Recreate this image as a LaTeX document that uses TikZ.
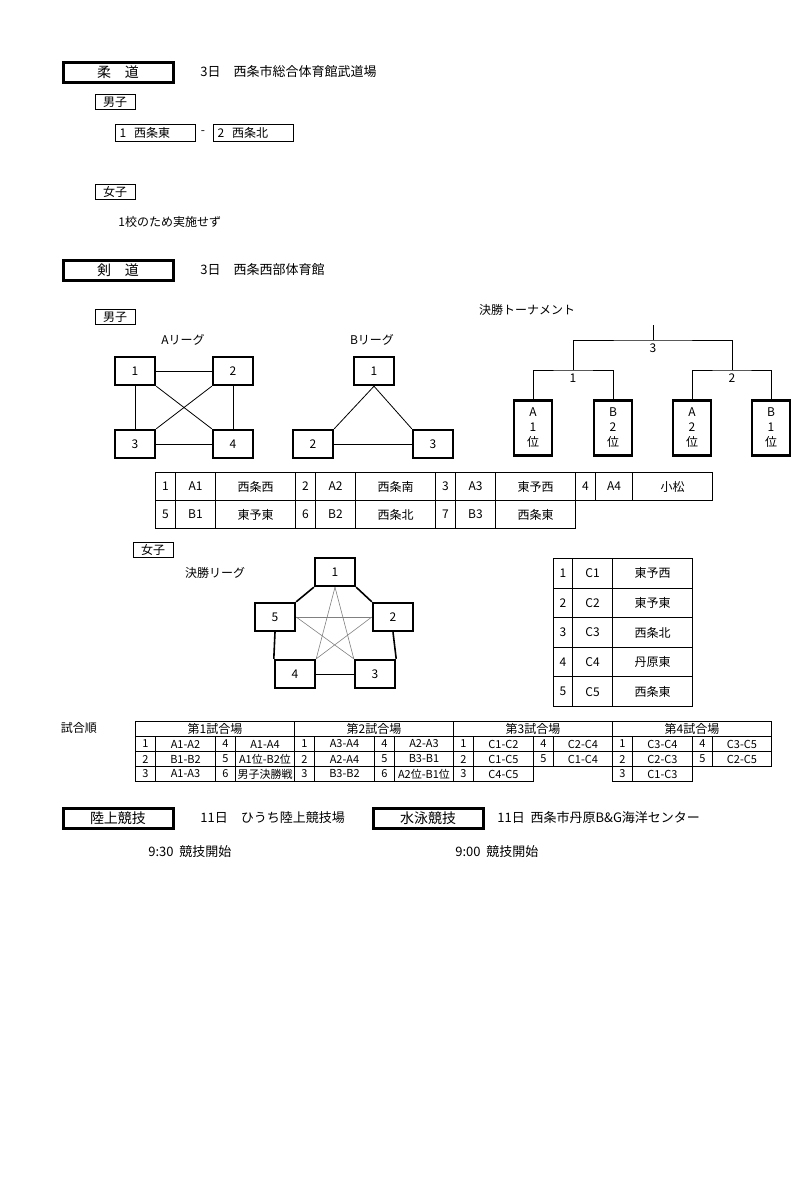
\documentclass[tikz,border=0pt]{standalone}
\usepackage{fontspec}
\setmainfont{Noto Sans CJK JP}
\begin{document}
\begin{tikzpicture}[
    x=0.5pt, y=-0.5pt,
    every node/.style={font=\fontsize{6}{7}\selectfont, inner sep=0pt},
    titlebox/.style={draw, line width=1.5pt, minimum width=55pt, minimum height=10pt, font=\fontsize{7}{8}\selectfont},
    smallbox/.style={draw, line width=0.5pt, minimum width=20pt, minimum height=7.5pt},
    teambox/.style={draw, line width=0.5pt, minimum width=40pt, minimum height=8.5pt, anchor=west, text width=38pt, align=left},
    vertex/.style={draw, line width=1.2pt, minimum width=20pt, minimum height=14pt},
    tallvertex/.style={draw, line width=1.2pt, minimum width=19pt, minimum height=27.5pt, align=center, font=\fontsize{6}{7.5}\selectfont},
    cell/.style={draw, line width=0.5pt, anchor=north west, minimum height=14pt},
    mcell/.style={draw, line width=0.5pt, anchor=north west, minimum height=7.5pt, font=\fontsize{5.5}{6}\selectfont},
    info/.style={anchor=west, font=\fontsize{6.5}{7.5}\selectfont}
]
\useasboundingbox (0,0) rectangle (800,1200);

% 柔道
\node[titlebox] (judo) at (118,72) {柔\quad 道};
\node[info] (judoinfo) at (200,72) {3日\quad 西条市総合体育館武道場};
\node[smallbox] (judoM) at (115,102) {男子};
\node[teambox] (jt1) at (115,133) {\,1\ \ 西条東};
\node (jdash) at (203,133) {-};
\node[teambox] (jt2) at (213,133) {\,2\ \ 西条北};
\node[smallbox] (judoW) at (115,192) {女子};
\node[anchor=west] (judonote) at (118,222) {1校のため実施せず};

% 剣道
\node[titlebox] (kendo) at (118,270) {剣\quad 道};
\node[info] (kendoinfo) at (200,270) {3日\quad 西条西部体育館};
\node[smallbox] (kendoM) at (115,317) {男子};

% Aリーグ
\node (alabel) at (183,340) {Aリーグ};
\node[vertex] (a1) at (135,371) {1};
\node[vertex] (a2) at (233,371) {2};
\node[vertex] (a3) at (135,444) {3};
\node[vertex] (a4) at (233,444) {4};
\draw (a1) -- (a2);
\draw (a1) -- (a3);
\draw (a2) -- (a4);
\draw (a3) -- (a4);
\draw (a1.south east) -- (a4.north west);
\draw (a2.south west) -- (a3.north east);

% Bリーグ
\node (blabel) at (372,340) {Bリーグ};
\node[vertex] (b1) at (374,371) {1};
\node[vertex] (b2) at (313,444) {2};
\node[vertex] (b3) at (433,444) {3};
\draw (b1.south) -- (b2.north east);
\draw (b1.south) -- (b3.north west);
\draw (b2) -- (b3);

% 決勝トーナメント
\node (tlabel) at (527,310) {決勝トーナメント};
\node[tallvertex] (t1) at (533,428) {A\\1\\位};
\node[tallvertex] (t2) at (613,428) {B\\2\\位};
\node[tallvertex] (t3) at (692,428) {A\\2\\位};
\node[tallvertex] (t4) at (771,428) {B\\1\\位};
\coordinate (top) at (653,325);
\draw (t1.north) |- (573,370) coordinate (m1) -| (t2.north);
\draw (t3.north) |- (732,370) coordinate (m2) -| (t4.north);
\draw (m1) |- (653,340) coordinate (m3) -| (m2);
\draw (m3) -- (top);
\node (s1) at (573,378) {1};
\node (s2) at (732,378) {2};
\node (s3) at (653,348) {3};

% 男子 一覧
\foreach \x/\w/\t [count=\k] in {155/20/1,175/40/A1,215/80/西条西,295/20/2,315/40/A2,355/80/西条南,
    435/20/3,455/40/A3,495/80/東予西,575/20/4,595/37/A4,632/80/小松}
  \node[cell, minimum width=\w*0.5pt] (mr\k) at (\x,472) {\t};
\foreach \x/\w/\t [count=\k] in {155/20/5,175/40/B1,215/80/東予東,295/20/6,315/40/B2,355/80/西条北,
    435/20/7,455/40/B3,495/80/西条東}
  \node[cell, minimum width=\w*0.5pt] (ms\k) at (\x,500) {\t};

% 女子
\node[smallbox] (kendoW) at (153,550) {女子};
\node (clabel) at (215,573) {決勝リーグ};
\node[vertex] (c1) at (335,572) {1};
\node[vertex] (c2) at (393,617) {2};
\node[vertex] (c3) at (375,674) {3};
\node[vertex] (c4) at (295,674) {4};
\node[vertex] (c5) at (275,617) {5};
\draw[line width=0.8pt] (c1.south west) -- (c5.north east);
\draw[line width=0.8pt] (c1.south east) -- (c2.north west);
\draw[line width=0.8pt] (c2.south) -- (c3.north east);
\draw[line width=0.8pt] (c5.south) -- (c4.north west);
\draw[line width=0.5pt] (c3) -- (c4);
\begin{scope}[gray, line width=0.3pt]
\draw (c1.south) -- (c3.north west);
\draw (c1.south) -- (c4.north east);
\draw (c5.east) -- (c2.west);
\draw (c5.east) -- (c3.north west);
\draw (c2.west) -- (c4.north east);
\end{scope}
\foreach \n/\c/\t [count=\k] in {1/C1/東予西,2/C2/東予東,3/C3/西条北,4/C4/丹原東,5/C5/西条東} {
  \node[cell, minimum width=9.5pt, minimum height=14.8pt] (cn\k) at (553,528.4+29.6*\k) {\n};
  \node[cell, minimum width=20pt, minimum height=14.8pt] (cc\k) at (572,528.4+29.6*\k) {\c};
  \node[cell, minimum width=40pt, minimum height=14.8pt] (ct\k) at (612,528.4+29.6*\k) {\t};
}

% 試合順
\node (olabel) at (79,728) {試合順};
\foreach \g/\h in {0/第1試合場,1/第2試合場,2/第3試合場,3/第4試合場}
  \node[mcell, minimum width=79.5pt, font=\fontsize{6}{7}\selectfont] (oh\g) at (135+159*\g,721) {\h};
\foreach \g/\r/\a/\b/\c/\d in {
    0/0/1/A1-A2/4/A1-A4, 0/1/2/B1-B2/5/A1位-B2位, 0/2/3/A1-A3/6/男子決勝戦,
    1/0/1/A3-A4/4/A2-A3, 1/1/2/A2-A4/5/B3-B1, 1/2/3/B3-B2/6/A2位-B1位,
    2/0/1/C1-C2/4/C2-C4, 2/1/2/C1-C5/5/C1-C4,
    3/0/1/C3-C4/4/C3-C5, 3/1/2/C2-C3/5/C2-C5} {
  \node[mcell, minimum width=10pt] (oa\g\r) at (135+159*\g,736+15*\r) {\a};
  \node[mcell, minimum width=30pt] (ob\g\r) at (155+159*\g,736+15*\r) {\b};
  \node[mcell, minimum width=10pt] (oc\g\r) at (215+159*\g,736+15*\r) {\c};
  \node[mcell, minimum width=29.5pt] (od\g\r) at (235+159*\g,736+15*\r) {\d};
}
\foreach \g/\a/\b in {2/3/C4-C5, 3/3/C1-C3} {
  \node[mcell, minimum width=10pt] (oa\g2) at (135+159*\g,766) {\a};
  \node[mcell, minimum width=30pt] (ob\g2) at (155+159*\g,766) {\b};
}

% 陸上・水泳
\node[titlebox] (riku) at (118,818) {陸上競技};
\node[info] (rikuinfo) at (200,818) {11日\quad ひうち陸上競技場};
\node[titlebox] (sui) at (428,818) {水泳競技};
\node[info] (suiinfo) at (497,818) {11日\ \ 西条市丹原B\&G海洋センター};
\node[info] (rikutime) at (148,852) {9:30\ \ 競技開始};
\node[info] (suitime) at (455,852) {9:00\ \ 競技開始};
\end{tikzpicture}
\end{document}
